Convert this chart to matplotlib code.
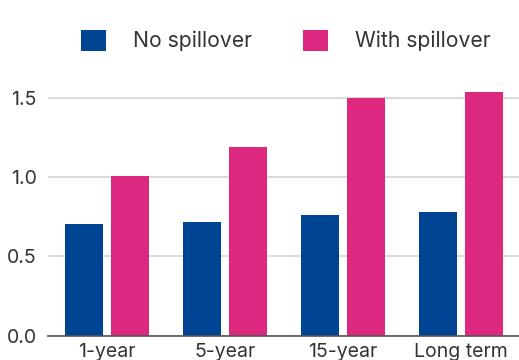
import matplotlib
matplotlib.use("Agg")
import matplotlib.pyplot as plt
import numpy as np

categories = ["1-year", "5-year", "15-year", "Long term"]
no_spillover = [0.705, 0.717, 0.761, 0.780]
with_spillover = [1.005, 1.190, 1.500, 1.537]
yticks = [0.0, 0.5, 1.0, 1.5]
ytick_labels = ["0.0", "0.5", "1.0", "1.5"]

BLUE = "#004494"
PINK = "#DD2880"
TEXT = "#333333"

plt.rcParams["font.family"] = ["Inter", "DejaVu Sans"]

fig = plt.figure(figsize=(5.19, 3.60), dpi=100)
ax = fig.add_axes([48 / 519, (360 - 335.7) / 360, 472 / 519, (1.6 * 158.5) / 360])

x = np.arange(len(categories))
w = 0.322
off = 0.199
b1 = ax.bar(x - off, no_spillover, w, color=BLUE, label="No spillover", zorder=3)
b2 = ax.bar(x + off, with_spillover, w, color=PINK, label="With spillover", zorder=3)

ax.set_xlim(-0.5, 3.5)
ax.set_ylim(0, 1.6)
ax.set_xticks(x)
ax.set_xticklabels(categories)
ax.set_yticks(yticks)
ax.set_yticklabels(ytick_labels)
ax.tick_params(axis="both", length=0, labelsize=14, colors=TEXT, pad=5)
ax.tick_params(axis="y", pad=8)

ax.grid(axis="y", color="#d4d4d4", linewidth=1.2, zorder=0)
for s in ["top", "right", "left"]:
    ax.spines[s].set_visible(False)
ax.spines["bottom"].set_color("#555555")
ax.spines["bottom"].set_linewidth(1.2)
ax.spines["bottom"].set_zorder(4)

leg = fig.legend(handles=[b1, b2], loc="center", bbox_to_anchor=(0.550, 1 - 40.5 / 360),
                 ncol=2, frameon=False, fontsize=15.2,
                 handlelength=1.18, handleheight=1.18, handletextpad=1.28,
                 columnspacing=2.42)
for t in leg.get_texts():
    t.set_color(TEXT)

fig.savefig("out.png", dpi=100)
